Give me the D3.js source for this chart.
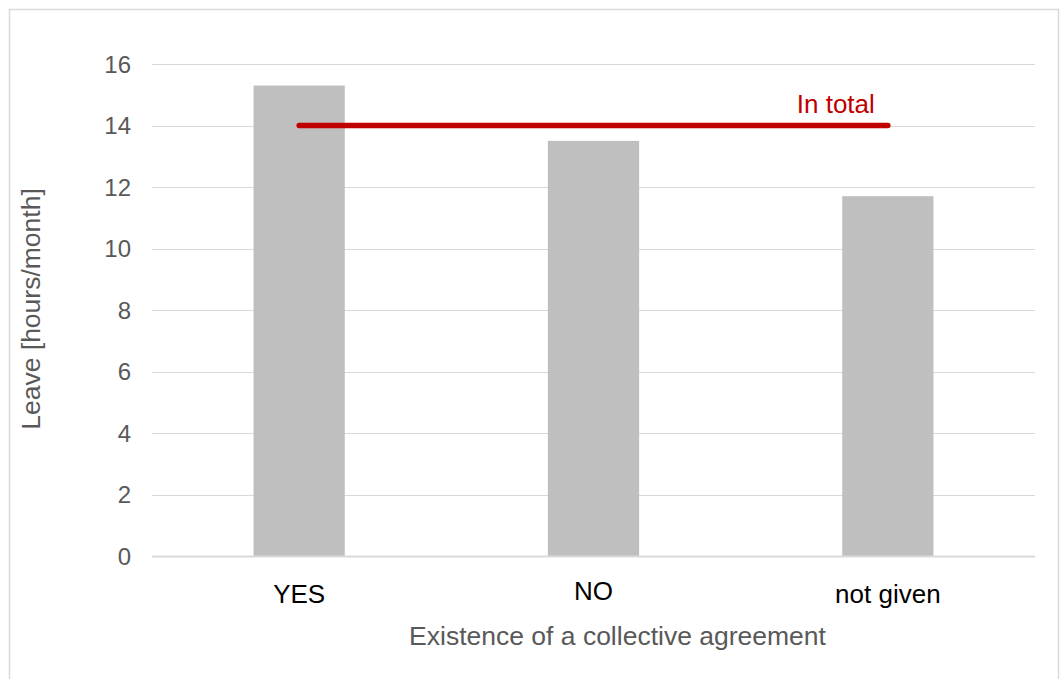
<!DOCTYPE html>
<html>
<head>
<meta charset="utf-8">
<script src="https://cdn.jsdelivr.net/npm/d3@7"></script>
<style>
  html, body { margin: 0; padding: 0; background: #fff; }
  svg { display: block; font-family: "Liberation Sans", Arial, sans-serif; }
</style>
</head>
<body>
<svg id="chart" width="1060" height="679"></svg>
<script>
// Average leave by existence of a collective agreement
const categories = ["YES", "NO", "not given"];
const leaveHours = [15.3, 13.5, 11.7];
const totalAverage = 14.0;
const yTicks = [0, 2, 4, 6, 8, 10, 12, 14, 16];

const svg = d3.select("#chart");
const W = 1060, H = 679;
const plot = { left: 152, right: 1035, top: 64, bottom: 556 };

// Outer frame of the chart area
svg.append("rect")
  .attr("x", 9.5).attr("y", 9.5)
  .attr("width", W - 11).attr("height", H - 8)
  .attr("fill", "#fff")
  .attr("stroke", "#d9d9d9")
  .attr("stroke-width", 1.5);

const x = d3.scaleBand()
  .domain(categories)
  .range([plot.left, plot.right])
  .paddingInner(0.69)
  .paddingOuter(0.345);

const y = d3.scaleLinear()
  .domain([0, 16])
  .range([plot.bottom, plot.top]);

// Horizontal gridlines
svg.append("g")
  .selectAll("line")
  .data(yTicks.filter(d => d !== 0))
  .join("line")
  .attr("x1", plot.left).attr("x2", plot.right)
  .attr("y1", d => Math.round(y(d)) + 0.5)
  .attr("y2", d => Math.round(y(d)) + 0.5)
  .attr("stroke", "#d9d9d9")
  .attr("stroke-width", 1);

// Y axis tick labels
const yAxis = d3.axisLeft(y).tickValues(yTicks).tickSize(0).tickPadding(0).tickFormat(d3.format("d"));
const gy = svg.append("g")
  .attr("transform", `translate(${plot.left - 21},0)`)
  .call(yAxis);
gy.select(".domain").remove();
gy.selectAll("text")
  .attr("fill", "#595959")
  .attr("font-size", 24)
  .attr("font-family", "Liberation Sans, Arial, sans-serif")
  .attr("dy", "0.35em");

// Bars
svg.append("g")
  .selectAll("rect")
  .data(categories.map((c, i) => ({ c, v: leaveHours[i] })))
  .join("rect")
  .attr("x", d => x(d.c))
  .attr("width", x.bandwidth())
  .attr("y", d => y(d.v))
  .attr("height", d => y(0) - y(d.v))
  .attr("fill", "#bfbfbf");

// Baseline
svg.append("line")
  .attr("x1", plot.left).attr("x2", plot.right)
  .attr("y1", y(0) + 0.5).attr("y2", y(0) + 0.5)
  .attr("stroke", "#d9d9d9")
  .attr("stroke-width", 2);

// Category labels
const xAxis = d3.axisBottom(x).tickSize(0).tickPadding(0);
const gx = svg.append("g")
  .attr("transform", `translate(0,${y(0)})`)
  .call(xAxis);
gx.select(".domain").remove();
gx.selectAll("text")
  .attr("fill", "#000")
  .attr("font-size", 26)
  .attr("font-family", "Liberation Sans, Arial, sans-serif")
  .attr("y", 47)
  .attr("dy", d => d === "NO" ? -3 : 0);

// Overall average line
const first = categories[0], last = categories[categories.length - 1];
const lineX1 = x(first) + x.bandwidth() / 2;
const lineX2 = x(last) + x.bandwidth() / 2;
svg.append("line")
  .attr("x1", lineX1).attr("x2", lineX2)
  .attr("y1", y(totalAverage)).attr("y2", y(totalAverage))
  .attr("stroke", "#c00000")
  .attr("stroke-width", 5.5)
  .attr("stroke-linecap", "round");

svg.append("text")
  .attr("x", lineX2 - 13)
  .attr("y", y(totalAverage) - 13)
  .attr("text-anchor", "end")
  .attr("fill", "#c00000")
  .attr("font-size", 26)
  .text("In total");

// Axis titles
svg.append("text")
  .attr("x", (plot.left + plot.right) / 2 + 24)
  .attr("y", 645)
  .attr("text-anchor", "middle")
  .attr("fill", "#595959")
  .attr("font-size", 26.5)
  .text("Existence of a collective agreement");

svg.append("text")
  .attr("transform", `translate(40,${(plot.top + plot.bottom) / 2 - 1}) rotate(-90)`)
  .attr("text-anchor", "middle")
  .attr("fill", "#595959")
  .attr("font-size", 26.5)
  .text("Leave [hours/month]");
</script>
</body>
</html>
